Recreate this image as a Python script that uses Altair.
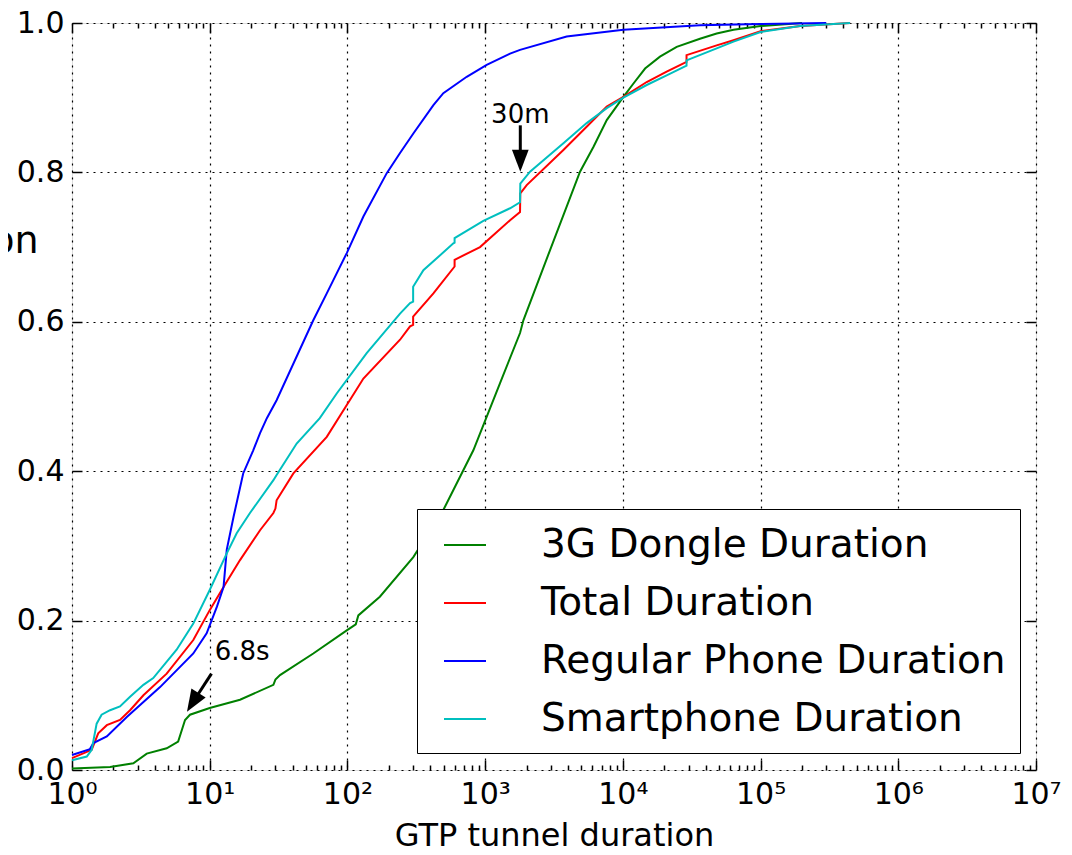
import altair as alt
import pandas as pd

# ---------------- data ----------------
names = ["3G Dongle Duration", "Total Duration", "Regular Phone Duration", "Smartphone Duration"]
colors = ["#008000", "#ff0000", "#0000ff", "#00bfbf"]

dongle_x = [1, 1.89, 2.79, 3.49, 4.87, 5.9, 6.62, 7.19, 10, 16.6, 29, 30, 32.4, 56.5, 98.9, 115, 120,
            172, 301, 497, 821, 1283, 1792, 1895, 2960, 4886, 6110, 7640, 10090, 11940, 14500, 18600,
            24600, 36300, 48000, 63600, 100000, 200000]
dongle_y = [0.002, 0.004, 0.009, 0.022, 0.029, 0.038, 0.067, 0.074, 0.083, 0.094, 0.114, 0.121, 0.127,
            0.156, 0.187, 0.195, 0.207, 0.232, 0.285, 0.348, 0.428, 0.518, 0.585, 0.602, 0.696,
            0.801, 0.834, 0.870, 0.901, 0.919, 0.939, 0.955, 0.968, 0.979, 0.986, 0.991, 0.996, 1.0]

total_x = [1, 1.39, 1.55, 1.79, 2.23, 2.64, 3.3, 4.87, 7.6, 10, 12.6, 16.6, 23.2, 29, 30, 30.6, 40.5,
           70.8, 104, 130.6, 241, 285, 300, 300, 421, 600, 600, 918, 1517, 1792, 1800, 2004, 3700,
           5460, 7640, 10090, 14900, 20800, 29000, 29000, 48000, 63600, 100000, 194000, 447000]
total_y = [0.016, 0.027, 0.049, 0.060, 0.067, 0.080, 0.100, 0.129, 0.174, 0.214, 0.245, 0.281, 0.321,
           0.344, 0.350, 0.361, 0.397, 0.446, 0.495, 0.524, 0.576, 0.594, 0.596, 0.607, 0.638,
           0.674, 0.683, 0.700, 0.736, 0.747, 0.772, 0.783, 0.830, 0.861, 0.888, 0.901, 0.921,
           0.935, 0.948, 0.957, 0.970, 0.977, 0.989, 0.996, 1.0]

phone_x = [1, 1.35, 1.43, 1.79, 2.5, 4.36, 7.6, 9.5, 11.3, 12.6, 13.3, 14.9, 17.5, 20.7, 23.2, 26,
           30.6, 56.5, 70.8, 98.9, 130.6, 193, 241, 301, 421, 497, 735, 1026, 1517, 1792, 3908,
           10090, 36300, 100000, 300000]
phone_y = [0.020, 0.028, 0.036, 0.045, 0.071, 0.111, 0.156, 0.183, 0.219, 0.245, 0.295, 0.339, 0.397,
           0.428, 0.451, 0.471, 0.495, 0.602, 0.638, 0.692, 0.741, 0.799, 0.826, 0.852, 0.890,
           0.906, 0.928, 0.944, 0.959, 0.964, 0.982, 0.991, 0.997, 0.9985, 1.0]

smart_x = [1, 1.28, 1.39, 1.51, 1.64, 1.89, 2.23, 2.64, 3.3, 3.89, 5.75, 7.6, 10, 13.3, 15.7, 19.6,
           29, 30.6, 42.8, 63, 83.6, 138, 241, 285, 300, 300, 356, 588, 600, 600, 970, 1517, 1792,
           1800, 2118, 3700, 5460, 7640, 10090, 14900, 20800, 29000, 29000, 48000, 63600, 100000,
           194000, 447000]
smart_y = [0.013, 0.018, 0.027, 0.062, 0.074, 0.080, 0.085, 0.098, 0.114, 0.123, 0.161, 0.196, 0.241,
           0.290, 0.317, 0.344, 0.388, 0.395, 0.437, 0.471, 0.504, 0.558, 0.611, 0.625, 0.627,
           0.647, 0.669, 0.705, 0.706, 0.712, 0.735, 0.752, 0.760, 0.785, 0.801, 0.839, 0.866,
           0.886, 0.900, 0.917, 0.930, 0.943, 0.950, 0.966, 0.975, 0.988, 0.996, 1.0]

# annotations
ann_text = ["6.8s", "30m"]
ann_text_x = [17.2, 1800]
ann_text_y = [0.158, 0.877]
arrow_tail_x = [10.3, 1800]
arrow_tail_y = [0.129, 0.863]
arrow_base_x = [8.01, 1800]
arrow_base_y = [0.098, 0.825]
arrow_tip_x = [6.84, 1800]
arrow_tip_y = [0.078, 0.801]
arrow_angle = [31.6, 0]

# ticks
major_x = [1, 10, 100, 1000, 10000, 100000, 1000000, 10000000]
minor_x = [k * m for m in major_x[:-1] for k in range(2, 10)]
y_ticks = [0, 0.2, 0.4, 0.6, 0.8, 1.0]

# ---------------- tables ----------------
rows = []
for name, xs, ys in zip(names, [dongle_x, total_x, phone_x, smart_x], [dongle_y, total_y, phone_y, smart_y]):
    for i, (x, y) in enumerate(zip(xs, ys)):
        rows.append({"series": name, "x": x, "y": y, "i": i})
df = pd.DataFrame(rows)

ann = pd.DataFrame({
    "label": ann_text, "tx": ann_text_x, "ty": ann_text_y,
    "x0": arrow_tail_x, "y0": arrow_tail_y, "x1": arrow_base_x, "y1": arrow_base_y,
    "xt": arrow_tip_x, "yt": arrow_tip_y, "angle": arrow_angle,
})

FONT = "DejaVu Sans"
xscale = alt.Scale(type="log", domain=[1, 1e7], nice=False)
yscale = alt.Scale(domain=[0, 1], nice=False)

sup_expr = "'10' + ['\u2070','\u00b9','\u00b2','\u00b3','\u2074','\u2075','\u2076','\u2077'][round(log(datum.value)/LN10)]"

x_main = alt.Axis(orient="bottom", values=major_x, labelExpr=sup_expr, grid=True, gridDash=[2, 5],
                  gridColor="black", gridWidth=1.2, gridOpacity=1, ticks=False, domain=False,
                  labelFontSize=30, labelFont=FONT, labelColor="black", labelPadding=9,
                  labelFlush=False, labelOverlap=False,
                  title="GTP tunnel duration", titleFontSize=32, titleFont=FONT,
                  titleFontWeight="normal", titleColor="black", titleBaseline="alphabetic",
                  titleY=75)
y_main = alt.Axis(orient="left", values=y_ticks, format=".1f", grid=True, gridDash=[2, 5],
                  gridColor="black", gridWidth=1.2, gridOpacity=1, ticks=False, domain=False,
                  labelFontSize=30, labelFont=FONT, labelColor="black", labelPadding=8,
                  labelFlush=False, labelOverlap=False,
                  title="Fraction", titleAngle=0, titleAlign="right", titleBaseline="alphabetic",
                  titleX=-34, titleY=229, titleFontSize=38, titleFont=FONT,
                  titleFontWeight="normal", titleColor="black")


def tick_axis(orient, values, size):
    return alt.Axis(orient=orient, values=values, labels=False, grid=False, domain=False,
                    ticks=True, tickSize=size, tickColor="black", tickWidth=1.5, offset=-size,
                    title=None)


def tick_layer(xaxis, yaxis):
    return alt.Chart(df).mark_line(opacity=0).encode(
        x=alt.X("x:Q", scale=xscale, axis=xaxis),
        y=alt.Y("y:Q", scale=yscale, axis=yaxis),
        detail="series:N",
    )


t1 = tick_layer(tick_axis("bottom", major_x, 10), tick_axis("left", y_ticks, 10))
t2 = tick_layer(tick_axis("bottom", minor_x, 5), tick_axis("right", y_ticks, 10))
t3 = tick_layer(tick_axis("top", major_x, 10), None)
t4 = tick_layer(tick_axis("top", minor_x, 5), None)

lines = alt.Chart(df).mark_line(strokeWidth=2).encode(
    x=alt.X("x:Q", scale=xscale, axis=x_main),
    y=alt.Y("y:Q", scale=yscale, axis=y_main),
    color=alt.Color("series:N", scale=alt.Scale(domain=names, range=colors),
                    legend=alt.Legend(orient="none", legendX=345, legendY=486, title=None,
                                      symbolType="stroke", symbolSize=1764, symbolStrokeWidth=2,
                                      labelFontSize=39, labelFont=FONT, labelColor="black",
                                      labelLimit=800, labelOffset=54, padding=14, symbolOffset=12,
                                      rowPadding=16, strokeColor="black", fillColor="white")),
    order=alt.Order("i:Q"),
)

shafts = alt.Chart(ann).mark_rule(color="black", strokeWidth=3).encode(
    x=alt.X("x0:Q", scale=xscale, axis=None), y=alt.Y("y0:Q", scale=yscale, axis=None),
    x2="x1:Q", y2="y1:Q",
)
heads = alt.Chart(ann).mark_point(shape="M0,0L-0.38,-1L0.38,-1Z", filled=True, color="black",
                                  opacity=1, size=1936, strokeWidth=0).encode(
    x=alt.X("xt:Q", scale=xscale, axis=None), y=alt.Y("yt:Q", scale=yscale, axis=None),
    angle=alt.Angle("angle:Q", scale=None),
)
labels = alt.Chart(ann).mark_text(font=FONT, fontSize=26, color="black", align="center",
                                  baseline="middle").encode(
    x=alt.X("tx:Q", scale=xscale, axis=None), y=alt.Y("ty:Q", scale=yscale, axis=None),
    text="label:N",
)

chart = alt.layer(t1, t2, t3, t4, lines, shafts, heads, labels).resolve_axis(
    x="independent", y="independent"
).properties(
    width=964, height=747,
    autosize=alt.AutoSizeParams(type="none"),
    padding={"left": 64, "top": 15, "right": 28, "bottom": 76},
).configure_view(stroke="black", strokeWidth=2).configure_legend(strokeWidth=2).configure(
    font=FONT
)

chart.save("out.html", embed_options={"renderer": "svg", "actions": False})
